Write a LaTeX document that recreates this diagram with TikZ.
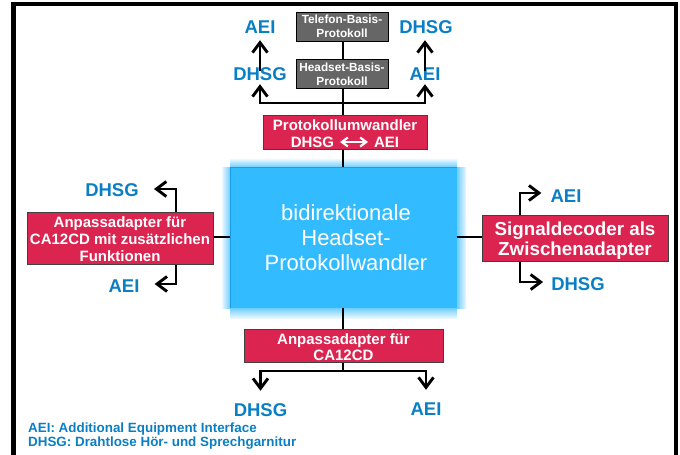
\documentclass[tikz,border=0pt]{standalone}
\usepackage{fontspec}
\setmainfont{Liberation Sans}
\usetikzlibrary{arrows.meta}
\definecolor{redbox}{HTML}{DC2450}
\definecolor{grayb}{HTML}{666666}
\definecolor{lblue}{HTML}{0B7FC4}
\definecolor{coreb}{HTML}{33BBFF}
\definecolor{coree}{HTML}{1A9BE8}
\definecolor{glowa}{HTML}{EAF7FF}
\definecolor{glowb}{HTML}{70CFFF}
\tikzset{
  conn/.style={line width=2.9pt,black},
  arr/.style={conn,-{Straight Barb[length=10pt,width=15pt,line width=2.9pt]}},
  redb/.style={draw=black!75,line width=1pt,fill=redbox,text=white,font=\bfseries\fontsize{15}{17}\selectfont,align=center,inner sep=0pt},
  grayn/.style={draw=black,line width=1pt,fill=grayb,text=white,font=\bfseries\fontsize{11.8}{14}\selectfont,align=center,inner sep=0pt,minimum width=92pt,minimum height=29pt},
  lbl/.style={text=lblue,font=\bfseries\fontsize{18.5}{20}\selectfont,inner sep=0pt,text height=14pt,text depth=0pt},
  leg/.style={text=lblue,font=\bfseries\fontsize{13.4}{14}\selectfont,inner sep=0pt,anchor=west}
}
\begin{document}
\begin{tikzpicture}[x=1pt,y=-1pt]
\useasboundingbox (0,0) rectangle (680,455);
\fill[white] (0,0) rectangle (680,455);
\draw[line width=4.4pt,black,line join=miter] (13.3,455) -- (13.3,4) -- (676,4) -- (676,455);
% glow
\shade[left color=glowa,right color=glowb] (222,167) rectangle (230,308);
\shade[left color=glowb,right color=glowa] (457,167) rectangle (466,308);
\shade[top color=glowa,bottom color=glowb] (230,159) rectangle (457,167);
\shade[top color=glowb,bottom color=glowa] (230,308) rectangle (457,318);
% core
\fill[coree] (230,167) rectangle (457,308);
\node[fill=coreb,inner sep=0pt,minimum width=226pt,minimum height=140pt,text=white,align=center,font=\fontsize{22}{25}\selectfont] (core) at (343.5,237.5) {\hspace*{5pt}bidirektionale\\\hspace*{5pt}Headset-\\\hspace*{5pt}Protokollwandler};
% boxes
\node[grayn] (tel) at (342,26.5) {Telefon-Basis-\\Protokoll};
\node[grayn] (head) at (342,73.5) {\rule{0pt}{11pt}Headset-Basis-\\Protokoll};
\node[redb,minimum width=164pt,minimum height=34pt] (umw) at (345,132) {\rule{0pt}{15pt}Protokollumwandler\\DHSG\hspace{40pt}AEI};
\node[redb,minimum width=186pt,minimum height=52pt] (left) at (120,238) {\rule{0pt}{13pt}Anpassadapter für\\CA12CD mit zusätzlichen\\Funktionen};
\node[redb,minimum width=186pt,minimum height=46pt,font=\bfseries\fontsize{18.8}{20}\selectfont] (sig) at (575,238) {\rule{0pt}{18pt}Signaldecoder als\\Zwischenadapter};
\node[redb,minimum width=199pt,minimum height=33pt,font=\bfseries\fontsize{15}{16}\selectfont] (bot) at (343.5,345.5) {\rule{0pt}{14pt}Anpassadapter für\\CA12CD};
% labels
\node[lbl] (aTL) at (260,27) {AEI};
\node[lbl] (dTR) at (426,26) {DHSG};
\node[lbl] (dML) at (260,73) {DHSG};
\node[lbl] (aMR) at (425,73) {AEI};
\node[lbl] (dL) at (112,189) {DHSG};
\node[lbl] (aL) at (124,285) {AEI};
\node[lbl] (aR) at (566,195) {AEI};
\node[lbl] (dR) at (578,283) {DHSG};
\node[lbl] (dB) at (260.5,409) {DHSG};
\node[lbl] (aB) at (426,408) {AEI};
\node[leg] (l1) at (28,429) {AEI: Additional Equipment Interface};
\node[leg] (l2) at (28,443) {DHSG: Drahtlose Hör- und Sprechgarnitur};
% junctions
\coordinate (tj) at (343,103);
\coordinate (bj) at (343,371);
\coordinate (lx) at (176,237);
\coordinate (rx) at (520,237);
% connectors
\draw[conn] (tel.south -| tj) -- (head.north -| tj);
\draw[conn] (head.south -| tj) -- (umw.north -| tj);
\draw[conn] (umw.south -| tj) -- (core.north -| tj);
\draw[arr,shorten >=4pt] (tj) -| (dML.south);
\draw[arr,shorten >=4pt] (tj) -| (aMR.south);
\draw[arr,shorten <=-5pt,shorten >=6pt] (dML.north) -- (aTL.south);
\draw[arr,shorten <=-5pt,shorten >=7pt] (aMR.north) -- (aMR.north |- dTR.south);
\draw[conn] (left.east |- lx) -- (core.west |- lx);
\draw[conn] (core.east |- rx) -- (sig.west |- rx);
\draw[arr,shorten >=15pt] (lx |- left.north) |- (dL.east);
\draw[arr,shorten >=15pt] (lx |- left.south) |- ([yshift=1pt]aL.east);
\draw[arr,shorten >=9pt] (rx |- sig.north) |- ([yshift=2pt]aR.west);
\draw[arr,shorten >=8pt] (rx |- sig.south) |- ([yshift=1pt]dR.west);
\draw[conn] (core.south -| bj) -- (bot.north -| bj);
\draw[conn] (bot.south -| bj) -- (bj);
\draw[arr,shorten >=11pt] (bj) -| (dB.north);
\draw[arr,shorten >=11pt] (bj) -| (aB.north);
% double arrow glyph in the converter box
\draw[white,line width=2.2pt,{Straight Barb[length=6pt,width=9pt,line width=2.2pt]}-{Straight Barb[length=6pt,width=9pt,line width=2.2pt]}] ([xshift=-5pt,yshift=-10pt]umw.center) -- ([xshift=23pt,yshift=-10pt]umw.center);
\end{tikzpicture}
\end{document}
